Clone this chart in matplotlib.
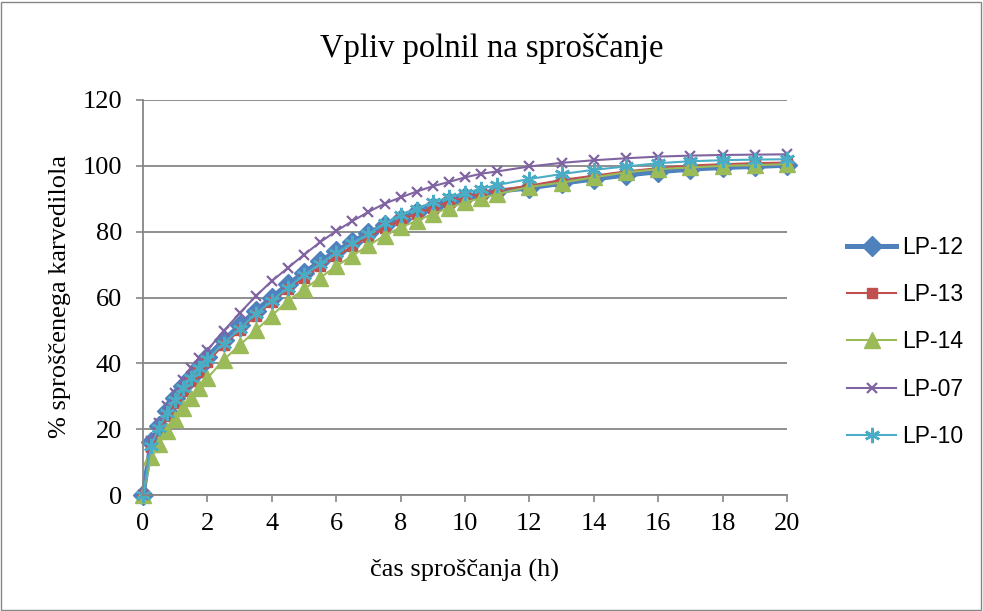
import matplotlib
matplotlib.use("Agg")
import matplotlib.pyplot as plt
from matplotlib.patches import Rectangle

time_h = [0, 0.25, 0.5, 0.75, 1, 1.25, 1.5, 1.75, 2, 2.5, 3, 3.5, 4, 4.5, 5, 5.5, 6, 6.5,
          7, 7.5, 8, 8.5, 9, 9.5, 10, 10.5, 11, 12, 13, 14, 15, 16, 17, 18, 19, 20]

lp12 = [0, 16, 21, 25.5, 29.5, 33, 36, 39, 42, 47, 51.5, 56, 60, 64, 67.5, 71, 74, 77,
        79.5, 82, 84, 86, 87.5, 89, 90.5, 91.5, 92.3, 93.3, 94.7, 96, 97.2, 98.2, 99, 99.5, 99.8, 100.2]
lp13 = [0, 14.5, 19.5, 24, 28, 31.5, 34.5, 37.5, 40.5, 45.5, 50, 54.5, 58.5, 62.5, 66, 69.5, 72.5, 75.5,
        78.5, 81, 83.5, 85.5, 87.3, 89, 90.5, 91.5, 92.5, 94, 95.7, 97, 98.3, 99.3, 100.1, 100.5, 100.8, 101]
lp14 = [0, 11.5, 15.5, 19.5, 23, 26.5, 29.5, 32.5, 35.5, 41, 45.5, 50, 54.5, 59, 62.5, 66, 69.5, 72.7,
        75.8, 78.8, 81.3, 83.3, 85.4, 87.2, 88.9, 90.2, 91.4, 93.6, 94.9, 96.5, 98, 99, 99.5, 100, 100.2, 100.5]
lp07 = [0, 16.5, 22, 27, 31, 35, 38.5, 41.5, 44, 49.8, 55.2, 60.4, 65, 69, 73, 76.8, 80.2, 83.2,
        86, 88.5, 90.4, 92.2, 93.8, 95.1, 96.5, 97.6, 98.3, 99.8, 100.9, 101.7, 102.3, 102.8, 103.1, 103.3, 103.4, 103.5]
lp10 = [0, 15, 20.5, 25, 29, 32.5, 35.5, 38.5, 41.3, 46, 50.5, 55, 59, 63, 66.8, 70.3, 73.5, 76.5,
        79.3, 82.5, 85, 87, 89, 90.4, 91.8, 93, 94.2, 96, 97.5, 98.8, 99.8, 100.8, 101.4, 101.7, 101.9, 102]

labels = ["LP-12", "LP-13", "LP-14", "LP-07", "LP-10"]
title = "Vpliv polnil na sproščanje"
xlabel = "čas sproščanja (h)"
ylabel = "% sproščenega karvedilola"
xticks = list(range(0, 21, 2))
yticks = list(range(0, 121, 20))

serif = ["Liberation Serif", "DejaVu Serif"]
sans = ["Liberation Sans", "DejaVu Sans"]

fig = plt.figure(figsize=(9.83, 6.11), dpi=100)
fig.patches.append(Rectangle((0.001, 0.002), 0.997, 0.995, transform=fig.transFigure,
                             fill=False, edgecolor="#868686", linewidth=1.0))
ax = fig.add_axes([143/983, 1-495/611, (787-143)/983, (495-100)/611])

styles = [
    dict(color="#4F81BD", marker="D", markersize=10.5, linewidth=3.6),
    dict(color="#C0504D", marker="s", markersize=6.5, linewidth=1.5),
    dict(color="#9BBB59", marker="^", markersize=11, linewidth=1.5),
    dict(color="#8064A2", marker="x", markersize=6.5, linewidth=1.5, markeredgewidth=1.6),
    dict(color="#4BACC6", marker=(6, 2, 0), markersize=11, linewidth=1.5, markeredgewidth=1.8),
]
series = [lp12, lp13, lp14, lp07, lp10]
for vals, lab, st in zip(series, labels, styles):
    ax.plot(time_h, vals, label=lab, clip_on=False, **st)

ax.set_xlim(0, 20)
ax.set_ylim(0, 120)
ax.set_xticks(xticks)
ax.set_yticks(yticks)
ax.grid(axis="y", color="#868686", linewidth=1.3)
ax.set_axisbelow(True)
for s in ["top", "right"]:
    ax.spines[s].set_visible(False)
for s in ["left", "bottom"]:
    ax.spines[s].set_color("#868686")
    ax.spines[s].set_linewidth(1.3)
ax.tick_params(axis="both", colors="#868686", length=5, width=1.2, direction="out")
for lbl in ax.get_xticklabels() + ax.get_yticklabels():
    lbl.set_fontfamily(serif)
    lbl.set_fontsize(19)
    lbl.set_color("black")
ax.tick_params(axis="x", pad=8)
ax.tick_params(axis="y", pad=10)

fig.text(0.5, 1-48/611, title, ha="center", va="center", fontsize=23.5, family=serif)
fig.text(465/983, 1-570/611, xlabel, ha="center", va="center", fontsize=19, family=serif)
fig.text(60/983, 1-297/611, ylabel, ha="center", va="center", fontsize=19, family=serif,
         rotation=90)

leg = ax.legend(loc="center left", bbox_to_anchor=(838/983, 1-342/611), bbox_transform=fig.transFigure,
                frameon=False, prop={"family": sans, "size": 16.5}, labelspacing=1.05,
                handlelength=2.15, handletextpad=0.25, borderaxespad=0)

fig.savefig("out.png", dpi=100)
